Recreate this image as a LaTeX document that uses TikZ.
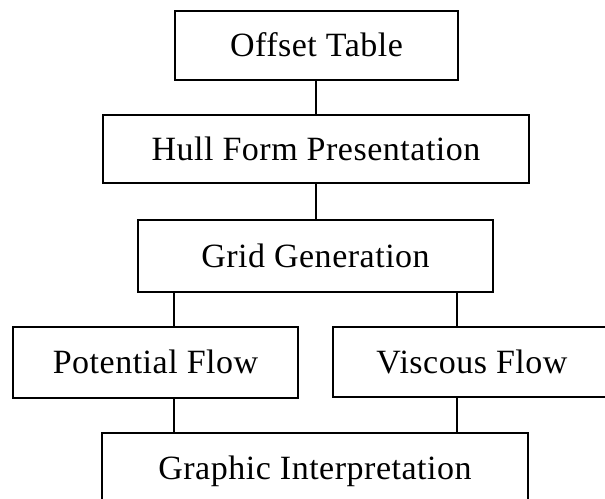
\documentclass[tikz,border=0pt]{standalone}
\usepackage{fontspec}
\setmainfont{Liberation Serif}[LetterSpace=1.5]
\begin{document}
\begin{tikzpicture}[x=1pt,y=-1pt,
  stage/.style={draw=black, line width=1.5pt, rectangle, inner sep=0pt, outer sep=0pt,
    font=\fontsize{34}{40}\selectfont, text height=22.5pt, text depth=0pt},
  link/.style={draw=black, line width=1.5pt}]
  \useasboundingbox (0,0) rectangle (605,498);
  \clip (0,0) rectangle (605,498);

  % process stages
  \node[stage, minimum width=283pt, minimum height=69pt] (offset) at (316.5,45.5) {Offset Table};
  \node[stage, minimum width=426pt, minimum height=68pt] (hull)   at (316,149)    {Hull Form Presentation};
  \node[stage, minimum width=355pt, minimum height=72pt] (grid)   at (315.5,256)  {Grid Generation};
  \node[stage, minimum width=285pt, minimum height=71pt] (pot)    at (155.5,362.5){Potential Flow};
  \node[stage, minimum width=278pt, minimum height=70pt] (visc)   at (472,362)    {Viscous Flow};
  \node[stage, minimum width=426pt, minimum height=70pt] (graph)  at (315,468)    {Graphic Interpretation};

  % columns of the branch connectors
  \coordinate (lcol) at (174,0);
  \coordinate (rcol) at (457,0);

  % connectors
  \draw[link] (offset.south -| hull.north) -- (hull.north);
  \draw[link] (hull.south) -- (grid.north -| hull.south);
  \draw[link] (grid.south -| lcol) -- (pot.north -| lcol);
  \draw[link] (grid.south -| rcol) -- (visc.north -| rcol);
  \draw[link] (pot.south -| lcol) -- (graph.north -| lcol);
  \draw[link] (visc.south -| rcol) -- (graph.north -| rcol);
\end{tikzpicture}
\end{document}
